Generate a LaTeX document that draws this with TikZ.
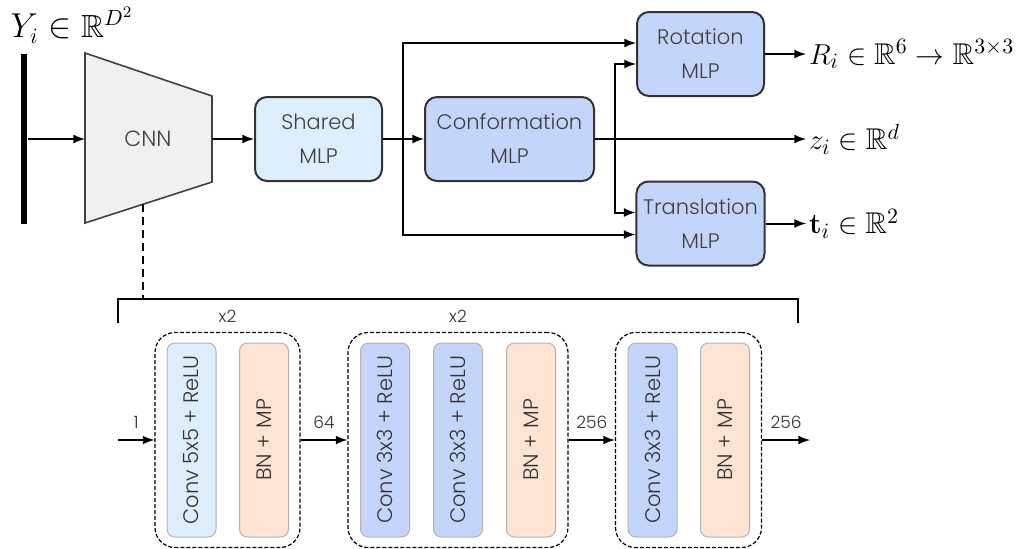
\documentclass[tikz,border=0pt]{standalone}
\usepackage{amsmath,amssymb}
\usepackage[no-math]{fontspec}
\setmainfont{Poppins}[UprightFont={* Light}]
\usetikzlibrary{arrows,positioning,calc}

\definecolor{lightblue}{HTML}{DCEDFC}
\definecolor{midblue}{HTML}{C3D5FB}
\definecolor{peach}{HTML}{FDE3D1}
\definecolor{cnngray}{HTML}{F0F0F0}

\begin{document}
\begin{tikzpicture}[x=0.5pt, y=-0.5pt, >=latex, line width=1pt]
\tikzset{mlp/.style={draw=black!80, rounded corners=6pt, minimum width=63.5pt, minimum height=42pt, align=center, text=black!75, font=\fontsize{10.5}{17}\selectfont}}
\tikzset{layer/.style={rotate=90, draw=black!30, line width=0.5pt, rounded corners=4pt, minimum width=97pt, minimum height=24.5pt, text=black!80, font=\fontsize{10.5}{12}\selectfont}}
\tikzset{group/.style={draw, dashed, dash pattern=on 2pt off 1pt, line width=0.6pt, rounded corners=10pt, minimum height=107.5pt}}
\tikzset{small/.style={text=black!80, font=\fontsize{8.5}{9}\selectfont}}
\tikzset{outlab/.style={anchor=west, inner sep=1pt, font=\fontsize{15}{17}\selectfont}}
\useasboundingbox (0,0) rectangle (1018,548);

% input and cnn encoder
\node[fill=black, inner sep=0pt, minimum width=3pt, minimum height=85pt] (img) at (24,139) {};
\node[font=\fontsize{16}{18}\selectfont] (ylab) at (72,25) {$Y_i \in \mathbb{R}^{D^2}$};
\draw[fill=cnngray, draw=black!75, line width=0.8pt] (85,53) -- (212,96) -- (212,182) -- (85,223) -- cycle;
\node[text=black!75, font=\fontsize{11}{13}\selectfont] (cnn) at (148,139) {CNN};
\coordinate (cnnin) at (85,139);
\coordinate (cnnout) at (212,139);
\coordinate (cnnbot) at (143,204);

% mlp heads
\node[mlp, fill=lightblue] (shared) at (318.5,139) {Shared\\MLP};
\node[mlp, fill=midblue, minimum width=84.5pt] (conf) at (509.5,139) {Conformation\\MLP};
\node[mlp, fill=midblue] (rot) at (700.5,54) {Rotation\\MLP};
\node[mlp, fill=midblue] (trans) at (700.5,223.5) {Translation\\MLP};
\coordinate (split1) at (403,139);
\coordinate (split2) at (615,139);

\node[outlab] (rlab) at (806,54) {$R_i \in \mathbb{R}^6 \rightarrow \mathbb{R}^{3\times 3}$};
\node[outlab] (zlab) at (806,139) {$z_i \in \mathbb{R}^d$};
\node[outlab] (tlab) at (806,223.5) {$\mathbf{t}_i \in \mathbb{R}^2$};

\draw[->] (img.east) -- (cnnin);
\draw[->] (cnnout) -- (shared);
\draw[->] (shared) -- (conf);
\draw[->] (split1) |- ([yshift=5.5pt]rot.west);
\draw[->] (split1) |- ([yshift=-5.5pt]trans.west);
\draw[->] (split2) |- ([yshift=-5pt]rot.west);
\draw[->] (split2) |- ([yshift=5.5pt]trans.west);
\draw[->] (rot) -- (rlab);
\draw[->] (conf) -- (zlab);
\draw[->] (trans) -- (tlab);

% cnn details
\coordinate (brkl) at (118,323);
\coordinate (brkr) at (798,323);
\coordinate (brktop) at (458,299);
\draw (brkl) |- (brktop) -| (brkr);
\draw[dashed, dash pattern=on 4pt off 2.5pt] (cnnbot) -- (cnnbot |- brktop);

\node[group, minimum width=72.5pt] (g1) at (227.5,440) {};
\node[group, minimum width=110pt] (g2) at (458,440) {};
\node[group, minimum width=73pt] (g3) at (688.5,440) {};
\node[small, above=1pt] (rep1) at (g1.north) {x2};
\node[small, above=1pt] (rep2) at (g2.north) {x2};

\node[layer, fill=lightblue] (c1) at (191.5,440) {Conv 5x5 + ReLU};
\node[layer, fill=peach] (p1) at (264,440) {BN + MP};
\node[layer, fill=midblue] (c2) at (385,440) {Conv 3x3 + ReLU};
\node[layer, fill=midblue] (c3) at (458,440) {Conv 3x3 + ReLU};
\node[layer, fill=peach] (p2) at (531,440) {BN + MP};
\node[layer, fill=midblue] (c4) at (652.5,440) {Conv 3x3 + ReLU};
\node[layer, fill=peach] (p3) at (725,440) {BN + MP};

\coordinate (cin) at (118,440);
\coordinate (cout) at (810,440);
\draw[->] (cin) -- (g1.west) node[small, midway, above=2pt] {1};
\draw[->] (g1.east) -- (g2.west) node[small, midway, above=2pt] {64};
\draw[->] (g2.east) -- (g3.west) node[small, midway, above=2pt] {256};
\draw[->] (g3.east) -- (cout) node[small, midway, above=2pt] {256};
\end{tikzpicture}
\end{document}
